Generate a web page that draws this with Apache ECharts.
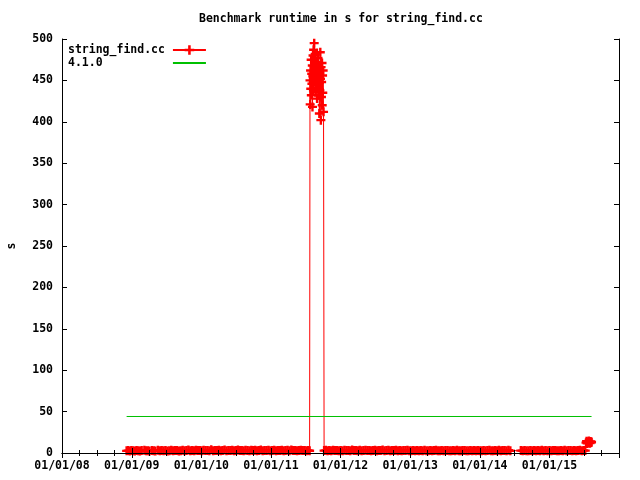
<!DOCTYPE html>
<html><head><meta charset="utf-8">
<script src="https://cdn.jsdelivr.net/npm/echarts@6/dist/echarts.min.js"></script>
<style>html,body{margin:0;padding:0;background:#fff}#c{width:640px;height:480px}</style>
</head><body><div id="c"></div>
<script>
const chartTitle = 'Benchmark runtime in s for string_find.cc';
const seriesName = 'string_find.cc';
const releaseName = '4.1.0';
const yAxisName = 's';
const xRange = ['2008-01-01', '2016-01-01'];
const yRange = [0, 500];
const yStep = 50;

// [date, seconds]
const beforeSpike = [
['2008-12-05',2.6],['2008-12-13',2.9],['2008-12-21',2.4],['2008-12-30',3.1],['2009-01-08',2.7],['2009-01-17',2.5],['2009-01-26',3.0],['2009-02-04',2.8],['2009-02-13',2.3],['2009-02-22',2.9],
['2009-03-08',3.2],['2009-03-17',2.6],['2009-03-26',2.8],['2009-04-04',2.4],['2009-04-17',3.0],['2009-04-26',2.7],['2009-05-05',2.5],['2009-05-18',3.3],['2009-05-28',2.6],['2009-06-07',2.9],
['2009-06-17',2.8],['2009-06-27',3.1],['2009-07-07',2.5],['2009-07-17',2.7],['2009-07-27',3.4],['2009-08-06',2.6],['2009-08-16',2.9],['2009-08-26',3.0],['2009-09-05',2.4],['2009-09-15',2.8],
['2009-09-25',3.2],['2009-10-05',2.7],['2009-10-15',2.9],['2009-10-25',3.6],['2009-11-04',2.8],['2009-11-14',3.0],['2009-11-24',2.6],['2009-12-04',3.3],['2009-12-14',2.9],['2009-12-24',3.1],
['2010-01-03',2.7],['2010-01-13',3.4],['2010-01-23',2.9],['2010-02-02',3.0],['2010-02-12',2.6],['2010-02-22',3.8],['2010-03-04',2.8],['2010-03-14',3.1],['2010-03-24',2.9],['2010-04-03',3.3],
['2010-04-13',2.7],['2010-04-23',3.0],['2010-05-03',3.5],['2010-05-13',2.8],['2010-05-23',3.1],['2010-06-02',2.9],['2010-06-12',3.2],['2010-06-22',2.6],['2010-07-02',3.0],['2010-07-12',3.7],
['2010-07-22',2.9],['2010-08-01',3.1],['2010-08-11',2.7],['2010-08-21',3.3],['2010-08-31',3.0],['2010-09-10',2.8],['2010-09-20',3.4],['2010-09-30',2.9],['2010-10-10',3.2],['2010-10-20',2.7],
['2010-10-30',3.0],['2010-11-09',3.6],['2010-11-19',2.8],['2010-11-29',3.1],['2010-12-09',2.9],['2010-12-19',3.3],['2010-12-29',2.7],['2011-01-08',3.0],['2011-01-18',3.2],['2011-01-28',2.8],
['2011-02-07',3.1],['2011-02-17',2.9],['2011-02-27',3.4],['2011-03-09',2.7],['2011-03-19',3.0],['2011-03-29',3.2],['2011-04-08',2.8],['2011-04-18',3.5],['2011-04-28',2.9],['2011-05-08',3.1],
['2011-05-18',2.8],['2011-05-28',3.0],['2011-06-07',3.3],['2011-06-17',2.9],['2011-06-27',3.1],['2011-07-07',2.7],['2011-07-15',3.0],['2011-07-23',2.8]
];

const spike = [
['2011-07-25',450],['2011-07-26',421],['2011-07-28',462],['2011-07-29',440],['2011-07-31',475],['2011-08-01',432],['2011-08-03',458],['2011-08-04',446],
['2011-08-06',468],['2011-08-07',418],['2011-08-09',455],['2011-08-10',480],['2011-08-12',438],['2011-08-13',487],['2011-08-15',460],['2011-08-16',495],
['2011-08-18',470],['2011-08-19',448],['2011-08-21',482],['2011-08-22',456],['2011-08-24',436],['2011-08-25',465],['2011-08-27',444],['2011-08-28',472],
['2011-08-30',452],['2011-08-31',428],['2011-09-02',463],['2011-09-03',441],['2011-09-05',477],['2011-09-06',455],['2011-09-08',432],['2011-09-09',468],
['2011-09-11',447],['2011-09-12',410],['2011-09-14',459],['2011-09-15',438],['2011-09-17',484],['2011-09-18',452],['2011-09-20',402],['2011-09-21',466],
['2011-09-23',430],['2011-09-24',448],['2011-09-26',471],['2011-09-27',420],['2011-09-29',456],['2011-09-30',435],['2011-10-02',462],['2011-10-04',412]
];

const afterSpike = [
['2011-10-07',2.9],['2011-10-16',3.2],['2011-10-25',2.7],['2011-11-03',3.0],['2011-11-13',2.8],['2011-11-23',3.4],['2011-12-03',2.9],['2011-12-13',3.1],['2011-12-23',2.6],
['2012-01-02',3.0],['2012-01-12',2.8],['2012-01-22',3.3],['2012-02-01',2.9],['2012-02-11',3.1],['2012-02-21',2.7],['2012-03-02',3.5],['2012-03-12',2.9],['2012-03-22',3.0],['2012-04-01',2.8],
['2012-04-11',3.2],['2012-04-21',2.6],['2012-05-01',3.0],['2012-05-11',3.4],['2012-05-21',2.9],['2012-05-31',3.1],['2012-06-10',2.7],['2012-06-20',3.0],['2012-06-30',3.3],['2012-07-10',2.8],
['2012-07-20',3.1],['2012-07-30',2.9],['2012-08-09',3.6],['2012-08-19',2.8],['2012-08-29',3.0],['2012-09-08',3.2],['2012-09-18',2.7],['2012-09-28',3.0],['2012-10-08',2.9],['2012-10-18',3.3],
['2012-10-28',2.8],['2012-11-07',3.1],['2012-11-17',2.6],['2012-11-27',3.0],['2012-12-07',2.9],['2012-12-17',3.2],['2012-12-27',2.8],
['2013-01-06',2.7],['2013-01-16',3.0],['2013-01-26',2.8],['2013-02-05',3.1],['2013-02-15',2.6],['2013-02-25',2.9],['2013-03-07',2.7],['2013-03-17',3.2],['2013-03-27',2.8],['2013-04-06',2.6],
['2013-04-16',3.0],['2013-04-26',2.7],['2013-05-06',2.9],['2013-05-16',3.3],['2013-05-26',2.8],['2013-06-05',2.6],['2013-06-15',3.0],['2013-06-25',2.7],['2013-07-05',2.9],['2013-07-15',3.1],
['2013-07-25',2.6],['2013-08-04',2.8],['2013-08-14',3.0],['2013-08-24',2.7],['2013-09-03',3.2],['2013-09-13',2.8],['2013-09-23',2.6],['2013-10-03',2.9],['2013-10-13',3.1],['2013-10-23',2.7],
['2013-11-02',2.8],['2013-11-12',3.0],['2013-11-22',2.6],['2013-12-02',2.9],['2013-12-12',2.7],['2013-12-22',3.1],
['2014-01-01',2.8],['2014-01-11',2.6],['2014-01-21',3.0],['2014-01-31',2.7],['2014-02-10',2.9],['2014-02-20',3.2],['2014-03-02',2.8],['2014-03-12',2.6],['2014-03-22',3.0],['2014-04-01',2.7],
['2014-04-11',3.4],['2014-04-21',2.8],['2014-05-01',2.9],['2014-05-11',3.1],['2014-05-21',2.7],['2014-05-31',3.3],['2014-06-10',2.8],
['2014-08-04',2.9],['2014-08-14',2.7],['2014-08-24',3.0],['2014-09-03',2.8],['2014-09-13',2.6],['2014-09-23',3.1],['2014-10-03',2.8],['2014-10-13',2.9],['2014-10-23',2.7],['2014-11-02',3.0],
['2014-11-12',2.8],['2014-11-22',3.2],['2014-12-02',2.7],['2014-12-12',2.9],['2014-12-22',2.8],
['2015-01-01',3.0],['2015-01-11',2.7],['2015-01-21',2.9],['2015-01-31',3.1],['2015-02-10',2.8],['2015-02-20',2.6],['2015-03-02',3.0],['2015-03-12',2.8],['2015-03-22',3.3],['2015-04-01',2.7],
['2015-04-11',2.9],['2015-04-21',3.1],['2015-05-01',2.8],['2015-05-11',3.0],['2015-05-21',2.7],['2015-05-31',2.9],['2015-06-10',3.2],['2015-06-20',2.8],['2015-06-30',3.0],['2015-07-08',2.9]
];

const tail = [
['2015-07-12',12.5],['2015-07-15',14.2],['2015-07-18',11.6],['2015-07-21',13.4],['2015-07-24',12.2],['2015-07-27',14.6],
['2015-07-30',13.0],['2015-08-02',11.9],['2015-08-05',14.0],['2015-08-08',12.8],['2015-08-10',13.3]
];

const releaseLine = [['2008-12-05',44.1],['2015-08-10',44.1]];

function toTime(s){ const p = s.split('-').map(Number); return new Date(p[0], p[1]-1, p[2]).getTime(); }
function pts(arr){ return arr.map(d => [toTime(d[0]), d[1]]); }
function two(n){ return (n < 10 ? '0' : '') + n; }
function fmtDate(v){ const d = new Date(v); return two(d.getMonth()+1) + '/' + two(d.getDate()) + '/' + two(d.getFullYear() % 100); }

const FONT = 'DejaVu Sans Mono';
const FS = 11.5;
const plusSymbol = 'path://M0,3.3H9V5.7H0Z M3.3,0H5.7V9H3.3Z';

const runData = pts(beforeSpike).concat(pts(spike), pts(afterSpike), pts(tail));

const chart = echarts.init(document.getElementById('c'), null, {renderer: 'canvas'});
const xBase = {
  type: 'time', min: toTime(xRange[0]), max: toTime(xRange[1]),
  splitNumber: 8, minInterval: 365 * 864e5, maxInterval: 366 * 864e5,
  axisLine: {show: true, lineStyle: {color: '#000', width: 1}},
  axisTick: {show: true, inside: true, length: 5, lineStyle: {color: '#000'}},
  minorTick: {show: true, splitNumber: 4, length: 3, lineStyle: {color: '#000'}},
  splitLine: {show: false}, minorSplitLine: {show: false}, z: 5
};
const yBase = {
  type: 'value', min: yRange[0], max: yRange[1], interval: yStep,
  axisLine: {show: true, lineStyle: {color: '#000', width: 1}},
  axisTick: {show: true, inside: true, length: 5, lineStyle: {color: '#000'}},
  splitLine: {show: false}, z: 5
};

chart.setOption({
  animation: false,
  backgroundColor: '#fff',
  title: {
    text: chartTitle, left: 199, top: 13, padding: 0,
    textStyle: {fontFamily: FONT, fontSize: FS, fontWeight: 'bold', color: '#000'}
  },
  grid: {left: 62, right: 21, top: 39, bottom: 27, containLabel: false, outerBoundsMode: 'none'},
  legend: {
    orient: 'vertical', left: 68, top: 44, padding: 0, itemGap: 1,
    itemWidth: 33, itemHeight: 12, align: 'right',
    formatter: n => n.padEnd(14, ' '),
    textStyle: {fontFamily: FONT, fontSize: FS, fontWeight: 'bold', color: '#000', padding: [0, 3, 0, 0]},
    data: [{name: seriesName}, {name: releaseName, itemStyle: {opacity: 0}}]
  },
  xAxis: [
    Object.assign({}, xBase, {
      position: 'bottom',
      axisLabel: {show: true, margin: 7, formatter: v => fmtDate(v), fontFamily: FONT, fontSize: FS, fontWeight: 'bold', color: '#000'}
    }),
    Object.assign({}, xBase, {position: 'top', axisLabel: {show: false}})
  ],
  yAxis: [
    Object.assign({}, yBase, {
      position: 'left', name: yAxisName, nameLocation: 'middle', nameGap: 44, nameRotate: 90,
      nameTextStyle: {fontFamily: FONT, fontSize: FS, fontWeight: 'bold', color: '#000'},
      axisLabel: {show: true, margin: 9, fontFamily: FONT, fontSize: FS, fontWeight: 'bold', color: '#000'}
    }),
    Object.assign({}, yBase, {position: 'right', axisLabel: {show: false}})
  ],
  series: [
    {
      name: seriesName, type: 'line', xAxisIndex: 0, yAxisIndex: 0,
      data: runData, symbol: plusSymbol, symbolSize: 9, showSymbol: true,
      lineStyle: {color: '#ff0000', width: 1}, itemStyle: {color: '#ff0000'},
      emphasis: {disabled: true}
    },
    {
      name: releaseName, type: 'line', xAxisIndex: 0, yAxisIndex: 0,
      data: pts(releaseLine), symbol: 'none',
      lineStyle: {color: '#00c000', width: 1}, itemStyle: {color: '#00c000'},
      emphasis: {disabled: true}
    }
  ]
});
</script>
</body></html>
